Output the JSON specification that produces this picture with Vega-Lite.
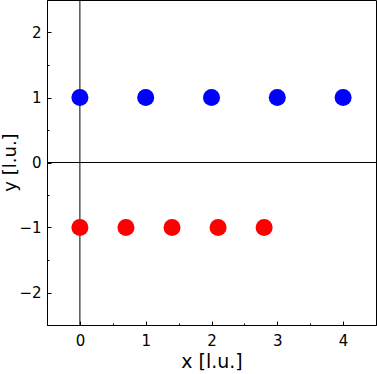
{
  "$schema": "https://vega.github.io/schema/vega-lite/v6.json",
  "width": 329,
  "height": 325,
  "autosize": {"type": "none"},
  "padding": {"left": 47, "top": 0, "right": 1, "bottom": 49},
  "background": "white",
  "config": {
    "view": {"stroke": "#000000", "strokeWidth": 1},
    "axis": {"domain": false, "grid": false, "tickColor": "#000000", "labelColor": "#000000", "titleColor": "#000000", "labelFont": "DejaVu Sans", "titleFont": "DejaVu Sans", "labelFontSize": 15, "labelFontWeight": "normal", "titleFontSize": 19, "titleFontWeight": "normal"}
  },
  "datasets": {
    "pts": [
      {"x": 0, "y": 1, "s": "blue"},
      {"x": 1, "y": 1, "s": "blue"},
      {"x": 2, "y": 1, "s": "blue"},
      {"x": 3, "y": 1, "s": "blue"},
      {"x": 4, "y": 1, "s": "blue"},
      {"x": 0, "y": -1, "s": "red"},
      {"x": 0.7, "y": -1, "s": "red"},
      {"x": 1.4, "y": -1, "s": "red"},
      {"x": 2.1, "y": -1, "s": "red"},
      {"x": 2.8, "y": -1, "s": "red"}
    ],
    "zero": [{"v": 0}]
  },
  "layer": [
    {
      "data": {"name": "zero"},
      "mark": {"type": "rule", "color": "#000000", "strokeWidth": 1},
      "encoding": {
        "x": {"field": "v", "type": "quantitative", "scale": {"domain": [-0.5, 4.5], "nice": false, "zero": false},
              "axis": {"orient": "bottom", "values": [-0.5, 0.5, 1.5, 2.5, 3.5, 4.5], "labels": false, "tickSize": -2, "title": null}}
      }
    },
    {
      "data": {"name": "zero"},
      "mark": {"type": "rule", "color": "#000000", "strokeWidth": 1},
      "encoding": {
        "y": {"field": "v", "type": "quantitative", "scale": {"domain": [-2.5, 2.5], "nice": false, "zero": false},
              "axis": {"orient": "left", "values": [-2.5, -1.5, -0.5, 0.5, 1.5, 2.5], "labels": false, "tickSize": -2, "title": null}}
      }
    },
    {
      "data": {"name": "pts"},
      "mark": {"type": "circle", "opacity": 1, "size": 290},
      "encoding": {
        "x": {"field": "x", "type": "quantitative", "scale": {"domain": [-0.5, 4.5], "nice": false, "zero": false},
              "axis": {"orient": "bottom", "values": [0, 1, 2, 3, 4], "tickSize": -4, "labelPadding": 12, "title": "x [l.u.]", "titlePadding": 4}},
        "y": {"field": "y", "type": "quantitative", "scale": {"domain": [-2.5, 2.5], "nice": false, "zero": false},
              "axis": {"orient": "left", "values": [-2, -1, 0, 1, 2], "tickSize": -4, "labelPadding": 10, "title": "y [l.u.]", "titleFontSize": 18, "titleX": -32, "titleY": 162, "titleAngle": 270, "titleBaseline": "alphabetic", "titleAlign": "center"}},
        "color": {"field": "s", "type": "nominal", "scale": {"domain": ["blue", "red"], "range": ["#0000ff", "#ff0000"]}, "legend": null}
      }
    }
  ],
  "resolve": {"axis": {"x": "independent", "y": "independent"}}
}
